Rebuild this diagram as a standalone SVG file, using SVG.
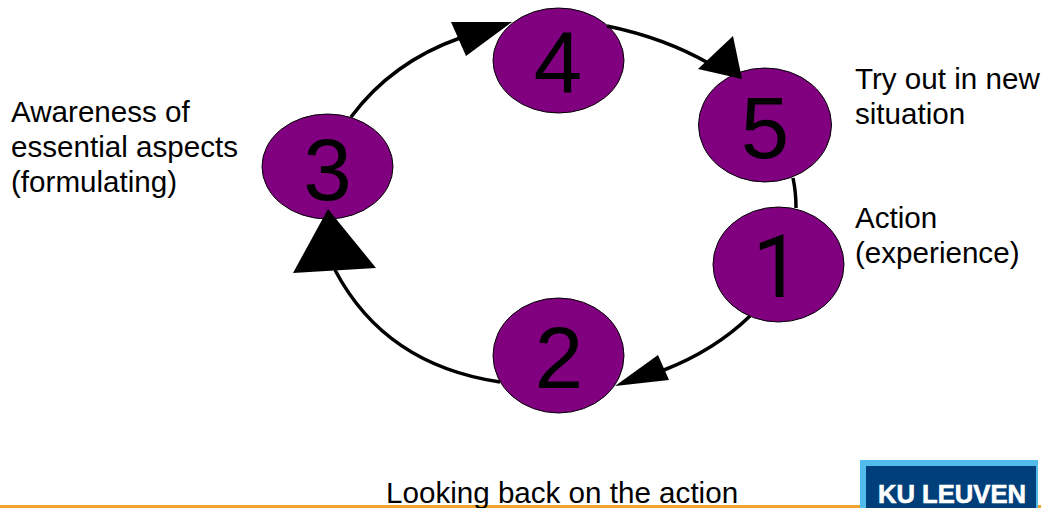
<svg xmlns="http://www.w3.org/2000/svg" width="1041" height="508" viewBox="0 0 1041 508">
<style>
.n{fill:#800080;stroke:#000;stroke-width:1}
.d{font:87px "Liberation Sans",Arial,sans-serif;fill:#000;text-anchor:middle}
.t{font:29.6px "Liberation Sans",Arial,sans-serif;fill:#000}
.c{fill:none;stroke:#000;stroke-width:3.5}
.h{fill:#000}
</style>
<rect width="1041" height="508" fill="#fff"/>
<rect id="rule" x="0" y="505" width="1041" height="3" fill="#f0a42c"/>
<g id="logo">
<rect x="860" y="460" width="178" height="48" fill="#52bdec"/>
<rect x="866" y="466" width="170" height="42" fill="#00407a"/>
<text x="952" y="503" text-anchor="middle" font-family="'Liberation Sans',Arial,sans-serif" font-weight="700" font-size="25.6" fill="#fff" stroke="#fff" stroke-width="0.6">KU LEUVEN</text>
</g>
<g id="node-4"><ellipse class="n" cx="558.5" cy="60.5" rx="65.5" ry="52.5"/><text class="d" x="558" y="93">4</text></g>
<g id="node-5"><ellipse class="n" cx="765" cy="125" rx="66.5" ry="57"/><text class="d" x="765" y="158">5</text></g>
<g id="node-1"><ellipse class="n" cx="778.5" cy="264.5" rx="65.5" ry="57.5"/><text class="d" x="777" y="297" style="font-family:Roboto,sans-serif">1</text></g>
<g id="node-2"><ellipse class="n" cx="558.5" cy="355.5" rx="65.5" ry="57.5"/><text class="d" x="559" y="388">2</text></g>
<g id="node-3"><ellipse class="n" cx="327.5" cy="166.5" rx="65.5" ry="52.5"/><text class="d" x="327.5" y="200">3</text></g>
<g id="connectors">
<path class="c" d="M351 117Q392 62 460 38"/>
<path class="h" d="M512 22L451 22L466 56Z"/>
<path class="c" d="M607 26Q665 38 710 64"/>
<path class="h" d="M733 36L698 69L742 79Z"/>
<path class="c" d="M793 178Q796 192 796 208"/>
<path class="c" d="M750 316Q715 350 664 370"/>
<path class="h" d="M615 386L658 355L669 380Z"/>
<path class="c" d="M500 382Q385 365 335 270"/>
<path class="h" d="M328 209L293 273L376 268Z"/>
</g>
<g id="labels">
<text class="t" x="11" y="122">Awareness of</text>
<text class="t" x="11" y="157">essential aspects</text>
<text class="t" x="11" y="192">(formulating)</text>
<text class="t" x="855" y="89">Try out in new</text>
<text class="t" x="855" y="124">situation</text>
<text class="t" x="855" y="228">Action</text>
<text class="t" x="855" y="263">(experience)</text>
<text class="t" x="386" y="503">Looking back on the action</text>
</g>
</svg>
